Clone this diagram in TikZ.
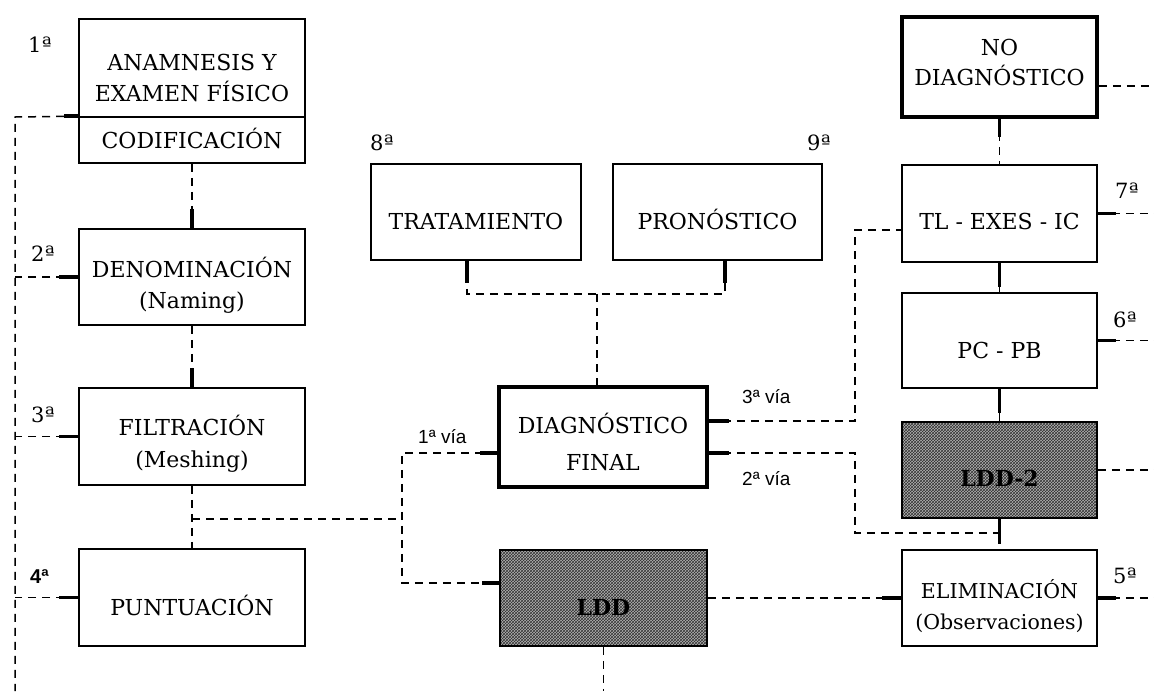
\documentclass[tikz,border=0pt]{standalone}
\usepackage{fontspec}
\setmainfont{DejaVu Serif}
\newfontfamily\labsans{Liberation Sans}
\usetikzlibrary{patterns}
\begin{document}
\begin{tikzpicture}[x=1pt,y=-1pt,
  box/.style={draw, line width=1.6pt, inner sep=0pt},
  heavybox/.style={draw, line width=3.8pt, inner sep=0pt},
  hatchbox/.style={draw, line width=1.8pt, inner sep=0pt, preaction={fill=gray!60}, pattern=crosshatch, pattern color=black!80},
  txt/.style={inner sep=0pt, anchor=base, font=\fontsize{22}{28}\selectfont},
  smalltxt/.style={txt, font=\fontsize{20.5}{26}\selectfont},
  boldtxt/.style={txt, font=\fontsize{22}{28}\selectfont\bfseries},
  num/.style={inner sep=0pt, anchor=base west, font=\fontsize{21}{24}\selectfont},
  via/.style={inner sep=0pt, anchor=base west, font=\labsans\fontsize{19}{22}\selectfont},
  dsh/.style={line width=1.5pt, dash pattern=on 8pt off 6pt},
  stubln/.style={line width=3.8pt},
  conn/.style={line width=1.5pt}]
\useasboundingbox (0,0) rectangle (1154,691);

% boxes
\node[box, minimum width=226pt, minimum height=98pt] (anam) at (192,68) {};
\node[box, minimum width=226pt, minimum height=46pt] (codif) at (192,140) {};
\node[box, minimum width=226pt, minimum height=96pt] (denom) at (192,277) {};
\node[box, minimum width=226pt, minimum height=97pt] (filt) at (192,436.5) {};
\node[box, minimum width=226pt, minimum height=97pt] (punt) at (192,597.5) {};
\node[box, minimum width=210pt, minimum height=96pt] (trat) at (476,212) {};
\node[box, minimum width=209pt, minimum height=96pt] (pron) at (717.5,212) {};
\node[heavybox, minimum width=208pt, minimum height=100pt] (diag) at (603,437) {};
\node[hatchbox, minimum width=207pt, minimum height=96pt] (ldd) at (603.5,598) {};
\node[heavybox, minimum width=195pt, minimum height=100pt] (nodiag) at (999.5,67) {};
\node[box, minimum width=195pt, minimum height=97pt] (tl) at (999.5,213.5) {};
\node[box, minimum width=195pt, minimum height=95pt] (pc) at (999.5,340.5) {};
\node[hatchbox, minimum width=195pt, minimum height=96pt] (ldd2) at (999.5,470) {};
\node[box, minimum width=195pt, minimum height=96pt] (elim) at (999.5,598) {};

% texts
\node[txt] (t1a) at (192,70) {ANAMNESIS Y};
\node[txt] (t1b) at (192,101) {EXAMEN FÍSICO};
\node[txt] (t1c) at (192,148) {CODIFICACIÓN};
\node[txt] (t2a) at (192,277) {DENOMINACIÓN};
\node[txt] (t2b) at (192,308) {(Naming)};
\node[txt] (t3a) at (192,435) {FILTRACIÓN};
\node[txt] (t3b) at (192,467) {(Meshing)};
\node[txt] (t4) at (192,615) {PUNTUACIÓN};
\node[txt] (t8) at (476,229) {TRATAMIENTO};
\node[txt] (t9) at (717.5,229) {PRONÓSTICO};
\node[txt] (tda) at (603,433) {DIAGNÓSTICO};
\node[txt] (tdb) at (603,470) {FINAL};
\node[boldtxt] (tldd) at (603.5,615) {LDD};
\node[txt] (tnoa) at (999.5,55) {NO};
\node[txt] (tnob) at (999.5,85) {DIAGNÓSTICO};
\node[txt] (ttl) at (999.5,229) {TL - EXES - IC};
\node[txt] (tpc) at (999.5,358) {PC - PB};
\node[boldtxt] (tldd2) at (999.5,486) {LDD-2};
\node[smalltxt] (t5a) at (999.5,598) {ELIMINACIÓN};
\node[smalltxt] (t5b) at (999.5,629) {(Observaciones)};

% step numbers
\node[num] (n1) at (28,52) {1ª};
\node[num] (n2) at (31,261) {2ª};
\node[num] (n3) at (31,422) {3ª};
\node[via, font=\labsans\bfseries\fontsize{20}{22}\selectfont] (n4) at (30,583) {4ª};
\node[num] (n5) at (1113,583) {5ª};
\node[num] (n6) at (1113,327) {6ª};
\node[num] (n7) at (1115,198) {7ª};
\node[num] (n8) at (370,150) {8ª};
\node[num] (n9) at (807,150) {9ª};
\node[via] (v1l) at (418,443) {1ª vía};
\node[via] (v3l) at (742,403) {3ª vía};
\node[via] (v2l) at (742,485) {2ª vía};

% left rail
\coordinate (railtop) at (15,117);
\coordinate (railbot) at (15,691);
\draw[dsh] (codif.north west) -- (railtop) -- (railbot);
\draw[stubln] (codif.north west) -- ++(-14,0);
\foreach \n in {denom,filt,punt}{
  \draw[dsh] (\n.west) -- (\n.west -| railtop);
  \draw[stubln] (\n.west) -- ++(-19,0);
}

% left column verticals
\draw[dsh] (codif.south) -- (denom.north);
\draw[stubln] (denom.north) -- ++(0,-19);
\draw[dsh] (denom.south) -- (filt.north);
\draw[stubln] (filt.north) -- ++(0,-19);
\draw[dsh] (filt.south) -- (punt.north);

% 1a via
\coordinate (fj) at (192,519);
\coordinate (vj) at (402,519);
\draw[dsh] (fj) -- (vj);
\coordinate (dwl) at ([yshift=-16pt]diag.west);
\coordinate (lwl) at ([yshift=15pt]ldd.west);
\draw[dsh] (dwl) -| (vj) |- (lwl);
\draw[stubln] (dwl) -- ++(-17,0);
\draw[stubln] (lwl) -- ++(-17,0);

% tratamiento / pronostico
\coordinate (tj) at (597,294);
\coordinate (trs) at ([xshift=-9pt]trat.south);
\coordinate (prs) at ([xshift=7.5pt]pron.south);
\draw[dsh] (trs) |- (tj) -| (prs);
\draw[dsh] (tj) -- (tj |- diag.north);
\draw[stubln] (trs) -- ++(0,22);
\draw[stubln] (prs) -- ++(0,22);

% 3a via
\coordinate (d3) at ([yshift=16pt]diag.east);
\coordinate (c3) at (855,230);
\draw[dsh] (d3) -| (c3) -- (c3 -| tl.west);
\draw[stubln] (d3) -- ++(20,0);

% 2a via
\coordinate (d2) at ([yshift=-16pt]diag.east);
\coordinate (c2) at (855,533);
\draw[dsh] (d2) -| (c2) -- (c2 -| ldd2.south);
\draw[stubln] (d2) -- ++(20,0);
\draw[stubln] (ldd2.south) -- ++(0,25);

% right column
\draw[dsh] (nodiag.south) -- (tl.north);
\draw[stubln] (nodiag.south) -- ++(0,18);
\draw[conn] (tl.south) -- (pc.north);
\draw[stubln] (tl.south) -- ++(0,24);
\draw[conn] (pc.south) -- (ldd2.north);
\draw[stubln] (pc.south) -- ++(0,24);

% right edge
\coordinate (redge) at (1154,0);
\coordinate (nde) at ([yshift=-19pt]nodiag.east);
\draw[dsh] (nde) -- (nde -| redge);
\draw[dsh] (tl.east) -- (tl.east -| redge);
\draw[stubln] (tl.east) -- ++(18,0);
\draw[dsh] (pc.east) -- (pc.east -| redge);
\draw[stubln] (pc.east) -- ++(18,0);
\draw[dsh] (ldd2.east) -- (ldd2.east -| redge);
\draw[dsh] (elim.east) -- (elim.east -| redge);
\draw[stubln] (elim.east) -- ++(18,0);

% LDD links
\draw[dsh] (ldd.east) -- (elim.west);
\draw[stubln] (elim.west) -- ++(-19,0);
\draw[dsh] (ldd.south) -- (ldd.south |- railbot);
\end{tikzpicture}
\end{document}
